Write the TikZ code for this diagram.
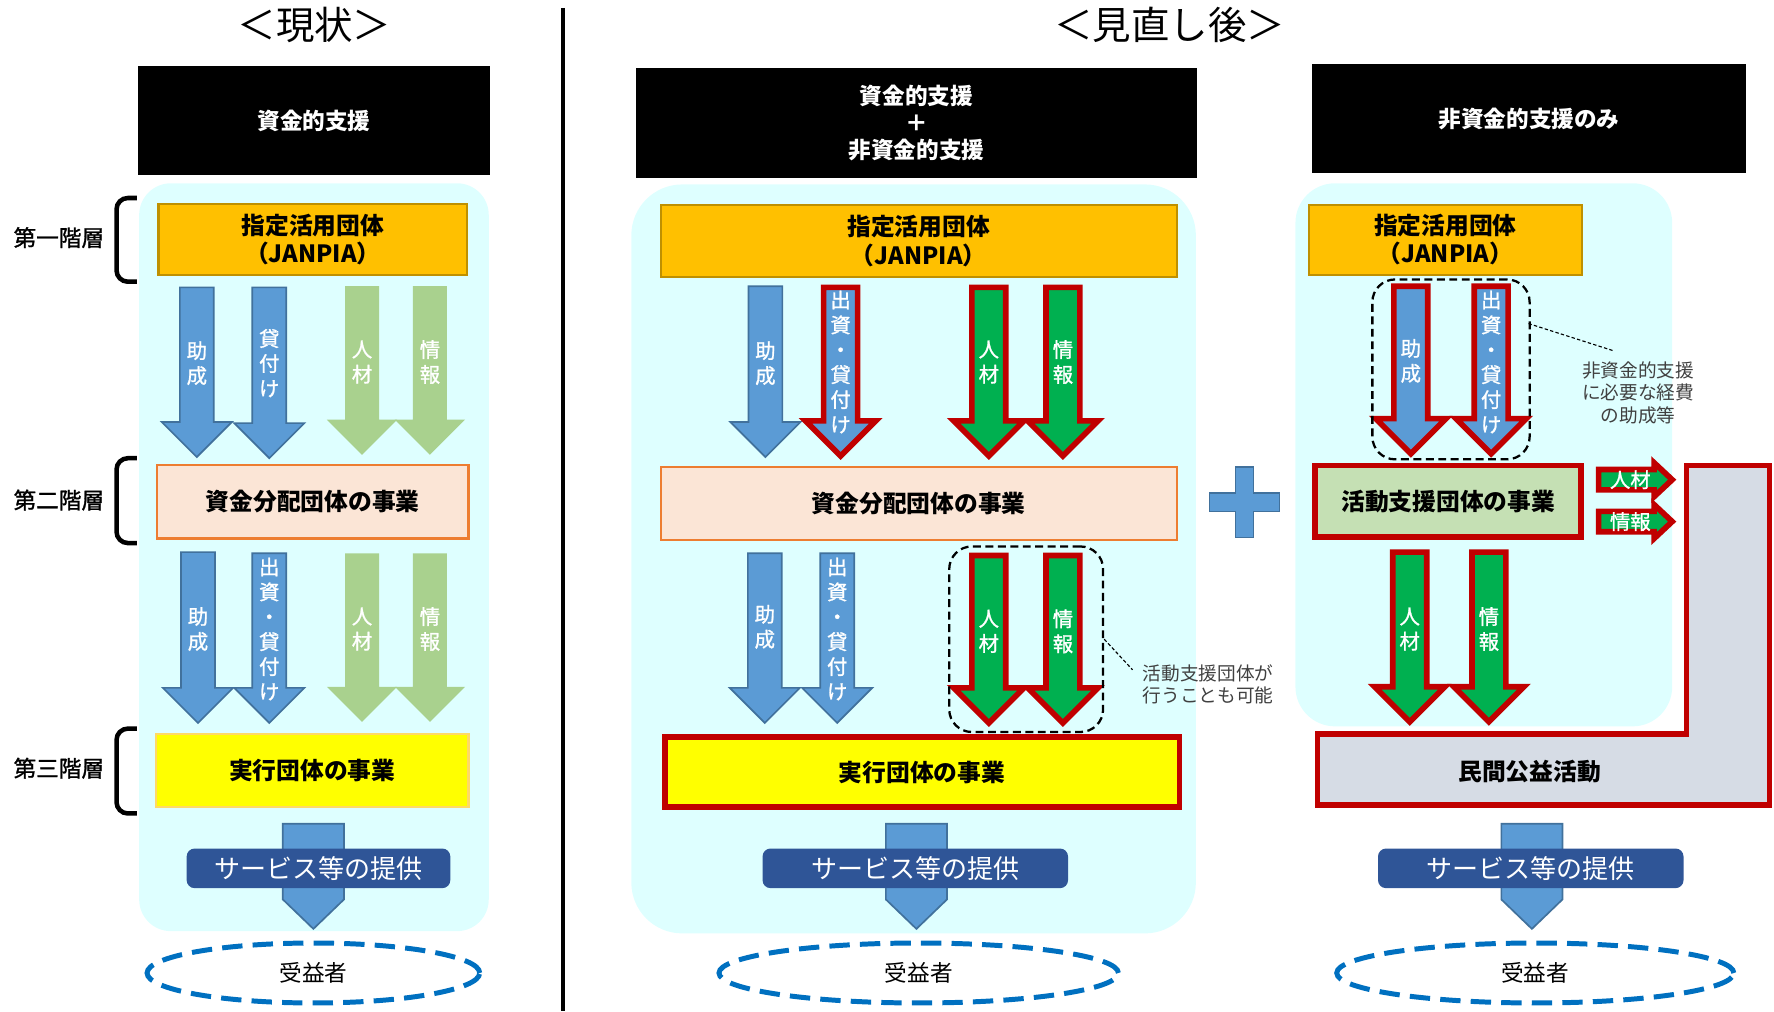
\documentclass[tikz,border=0pt]{standalone}
\usepackage{fontspec}
\setmainfont{Noto Sans CJK JP}
\newfontfamily\jpsemibold{Noto Sans CJK JP}[FakeBold=1.2]
\usetikzlibrary{positioning,shapes.geometric}

\definecolor{panelcyan}{HTML}{DEFFFF}
\definecolor{janpiaorange}{HTML}{FFC000}
\definecolor{janpiaedge}{HTML}{BF9000}
\definecolor{peach}{HTML}{FBE5D6}
\definecolor{peachedge}{HTML}{ED7D31}
\definecolor{execyellow}{HTML}{FFFF00}
\definecolor{execedge}{HTML}{FFD966}
\definecolor{flowblue}{HTML}{5B9BD5}
\definecolor{flowblueedge}{HTML}{41719C}
\definecolor{palegreen}{HTML}{A9D18E}
\definecolor{vividgreen}{HTML}{00B050}
\definecolor{alertred}{HTML}{C00000}
\definecolor{actgreen}{HTML}{C5E0B4}
\definecolor{publicgray}{HTML}{D6DCE5}
\definecolor{servicenavy}{HTML}{2F5597}
\definecolor{recipblue}{HTML}{0070C0}
\definecolor{notegray}{HTML}{404040}

\newcommand{\dnarrow}[4]{\path[#1] ({#2-15},#3) -- ({#2+15},#3) -- ({#2+15},{#4-31}) -- ({#2+31},{#4-31}) -- (#2,#4) -- ({#2-31},{#4-31}) -- ({#2-15},{#4-31}) -- cycle;}
\newcommand{\rtarrow}[4]{\path[#1] (#2,{#3-9}) -- ({#4-16},{#3-9}) -- ({#4-16},{#3-15}) -- (#4,#3) -- ({#4-16},{#3+15}) -- ({#4-16},{#3+9}) -- (#2,{#3+9}) -- cycle;}
\newcommand{\svarrow}[2]{\path[#1] ({#2-27},728) -- ({#2+27},728) -- ({#2+27},795) -- (#2,821) -- ({#2-27},795) -- cycle;}

\begin{document}
\begin{tikzpicture}[x=1pt,y=-1pt,inner sep=0pt,
			maintitle/.style={font=\fontsize{34}{40}\selectfont},
			header/.style={fill=black,text=white,align=center,
				font=\bfseries\fontsize{20}{24}\selectfont},
			tier/.style={font=\jpsemibold\fontsize{20}{24}\selectfont},
			tierbrace/.style={draw,line width=4,rounded corners=10},
			panel/.style={fill=panelcyan},
			boxtext/.style={align=center,font=\bfseries\fontsize{21}{25}\selectfont},
			janpia/.style={boxtext,fill=janpiaorange,draw=janpiaedge,line width=2},
			fundbox/.style={boxtext,fill=peach,draw=peachedge,line width=2},
			execbox/.style={boxtext,fill=execyellow,draw=execedge,line width=2},
			blue arrow/.style={fill=flowblue,draw=flowblueedge,line width=1.5},
			pale arrow/.style={fill=palegreen},
			red blue arrow/.style={fill=flowblue,draw=alertred,line width=5},
			red green arrow/.style={fill=vividgreen,draw=alertred,line width=5},
			arrow label/.style={text=white,align=center,font=\jpsemibold\fontsize{18}{22}\selectfont},
			servicebox/.style={fill=servicenavy,text=white,rounded corners=7,
				minimum height=35,font=\fontsize{23}{27}\selectfont},
			recipient/.style={ellipse,draw=recipblue,line width=4.4,dash pattern=on 18pt off 9pt,
				minimum height=53,font=\fontsize{20}{24}\selectfont},
			groupbox/.style={draw,dashed,line width=2,dash pattern=on 7pt off 4pt,rounded corners=20},
			leader/.style={draw,line width=1,dash pattern=on 3pt off 2pt},
			note/.style={text=notegray,font=\fontsize{16.5}{19.5}\selectfont}]
			
			\useasboundingbox (0,0) rectangle (1568,894);
			
			\node[maintitle] (tNow) at (278,22) {＜現状＞};
			\node[maintitle] (tNew) at (1034,22) {＜見直し後＞};
			\draw[line width=3.5] (498,7) -- (498,894);
			
			\node[panel,rounded corners=28,minimum width=309,minimum height=661] (panelL) at (277.5,492.5) {};
			\node[panel,rounded corners=45,minimum width=499,minimum height=662] (panelM) at (807.5,494) {};
			\node[panel,rounded corners=35,minimum width=333,minimum height=480] (panelR) at (1311.5,402) {};
			
			\node[header,minimum width=311,minimum height=97] (hdrL) at (277.5,106.5) {資金的支援};
			\node[header,minimum width=496,minimum height=97] (hdrM) at (810,108.5) {資金的支援\\＋\\非資金的支援};
			\node[header,minimum width=383,minimum height=96] (hdrR) at (1351.5,105) {非資金的支援のみ};
			
			\node[tier] (tier1) at (52,210) {第一階層};
			\node[tier] (tier2) at (52,442) {第二階層};
			\node[tier] (tier3) at (52,679) {第三階層};
			\path[tierbrace] (121,175) -- (103,175) -- (103,249) -- (121,249);
			\path[tierbrace] (121,405) -- (103,405) -- (103,480) -- (121,480);
			\path[tierbrace] (121,644) -- (103,644) -- (103,719) -- (121,719);
			
			\node[janpia,minimum width=273,minimum height=63] (jpL) at (276.5,211.5) {指定活用団体\\（JANPIA）};
			\node[janpia,minimum width=456,minimum height=64] (jpM) at (812,213) {指定活用団体\\（JANPIA）};
			\node[janpia,minimum width=241,minimum height=62] (jpR) at (1277.5,212) {指定活用団体\\（JANPIA）};
			
			\node[fundbox,minimum width=275,minimum height=65] (fdL) at (276.5,443.5) {資金分配団体の事業};
			\node[fundbox,minimum width=456,minimum height=64] (fdM) at (812,445) {資金分配団体の事業};
			\node[boxtext,fill=actgreen,draw=alertred,line width=5,minimum width=235,minimum height=63] (actR) at (1280,443) {活動支援団体の事業};
			
			\node[execbox,minimum width=276,minimum height=64] (exL) at (276,681) {実行団体の事業};
			\node[execbox,draw=alertred,line width=5,minimum width=455,minimum height=62] (exM) at (815,682.5) {実行団体の事業};
			
			\path[fill=publicgray,draw=alertred,line width=5] (1164.5,648.5) -- (1490.5,648.5) -- (1490.5,411.5)
				-- (1564,411.5) -- (1564,711.5) -- (1164.5,711.5) -- cycle;
			\node[boxtext] (pubR) at (1352,682) {民間公益活動};
			
			\dnarrow{blue arrow}{174}{254}{404}
			\dnarrow{blue arrow}{238}{254}{405}
			\dnarrow{pale arrow}{320}{253}{402}
			\dnarrow{pale arrow}{380}{253}{402}
			\node[arrow label] (aL1) at (174,321) {助\\成};
			\node[arrow label] (aL2) at (238,321) {貸\\付\\け};
			\node[arrow label] (aL3) at (320,320) {人\\材};
			\node[arrow label] (aL4) at (380,320) {情\\報};
			
			\dnarrow{blue arrow}{175}{488}{639}
			\dnarrow{blue arrow}{238}{489}{639}
			\dnarrow{pale arrow}{320}{489}{638}
			\dnarrow{pale arrow}{380}{489}{638}
			\node[arrow label] (bL1) at (175,556) {助\\成};
			\node[arrow label] (bL2) at (238,556) {出\\資\\・\\貸\\付\\け};
			\node[arrow label] (bL3) at (320,556) {人\\材};
			\node[arrow label] (bL4) at (380,556) {情\\報};
			
			\dnarrow{blue arrow}{676.5}{253}{404}
			\dnarrow{red blue arrow}{743}{254}{403}
			\dnarrow{red green arrow}{874}{254}{403}
			\dnarrow{red green arrow}{939.5}{254}{403}
			\node[arrow label] (aM1) at (676.5,321) {助\\成};
			\node[arrow label] (aM2) at (743,320) {出\\資\\・\\貸\\付\\け};
			\node[arrow label] (aM3) at (874,320) {人\\材};
			\node[arrow label] (aM4) at (939.5,320) {情\\報};
			
			\dnarrow{blue arrow}{676}{489}{639}
			\dnarrow{blue arrow}{740}{489}{639}
			\dnarrow{red green arrow}{874}{491}{639}
			\dnarrow{red green arrow}{939.5}{491}{639}
			\node[arrow label] (bM1) at (676,554) {助\\成};
			\node[arrow label] (bM2) at (740,556) {出\\資\\・\\貸\\付\\け};
			\node[arrow label] (bM3) at (874,558) {人\\材};
			\node[arrow label] (bM4) at (939.5,558) {情\\報};
			
			\dnarrow{red blue arrow}{1247}{253}{401}
			\dnarrow{red blue arrow}{1318}{253}{401}
			\node[arrow label] (aR1) at (1247,319) {助\\成};
			\node[arrow label] (aR2) at (1318,320) {出\\資\\・\\貸\\付\\け};
			
			\dnarrow{red green arrow}{1246}{488}{638}
			\dnarrow{red green arrow}{1316}{488}{638}
			\node[arrow label] (bR1) at (1246,556) {人\\材};
			\node[arrow label] (bR2) at (1316,556) {情\\報};
			
			\rtarrow{red green arrow}{1413}{424}{1478}
			\rtarrow{red green arrow}{1413}{461}{1478}
			\node[arrow label] (sideR1) at (1441,424) {人材};
			\node[arrow label] (sideR2) at (1441,461) {情報};
			
			\path[blue arrow] (1092,413) -- (1108,413) -- (1108,436) -- (1131,436) -- (1131,452) -- (1108,452)
				-- (1108,475) -- (1092,475) -- (1092,452) -- (1069,452) -- (1069,436) -- (1092,436) -- cycle;
			
			\node[groupbox,minimum width=136,minimum height=164] (grpM) at (907,565) {};
			\node[groupbox,minimum width=139,minimum height=159] (grpR) at (1282.5,326.5) {};
			\node[note,anchor=west,align=left] (noteM) at (1010,605) {活動支援団体が\\行うことも可能};
			\node[note,align=center,font=\fontsize{16.5}{20}\selectfont] (noteR) at (1448,347) {非資金的支援\\に必要な経費\\の助成等};
			\coordinate (ldM) at (1001,592);
			\coordinate (ldR0) at (1351,286);
			\coordinate (ldR) at (1426,310);
			\path[leader] (grpM.east) -- (ldM);
			\path[leader] (ldR0) -- (ldR);
			
			\svarrow{blue arrow}{277}
			\svarrow{blue arrow}{810}
			\svarrow{blue arrow}{1354}
			\node[servicebox,minimum width=233] (svL) at (281.5,767.5) {サービス等の提供};
			\node[servicebox,minimum width=270] (svM) at (809,767.5) {サービス等の提供};
			\node[servicebox,minimum width=270] (svR) at (1353,767.5) {サービス等の提供};
			
			\node[recipient,minimum width=294] (rcL) at (277,860) {受益者};
			\node[recipient,minimum width=353] (rcM) at (812,860) {受益者};
			\node[recipient,minimum width=351] (rcR) at (1357,860) {受益者};
		\end{tikzpicture}
\end{document}
